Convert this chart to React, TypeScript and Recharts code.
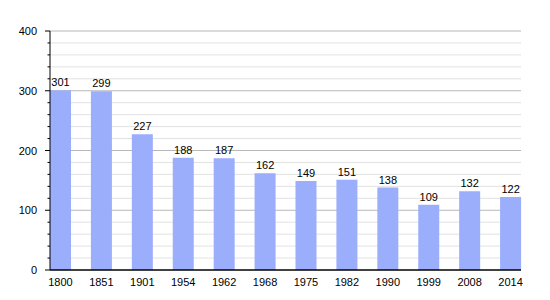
import { BarChart, Bar, XAxis, YAxis, CartesianGrid, LabelList } from "recharts";

// années et population
const years = ["1800", "1851", "1901", "1954", "1962", "1968", "1975", "1982", "1990", "1999", "2008", "2014"];
const population = [301, 299, 227, 188, 187, 162, 149, 151, 138, 109, 132, 122];
const yTicks = [0, 20, 40, 60, 80, 100, 120, 140, 160, 180, 200, 220, 240, 260, 280, 300, 320, 340, 360, 380, 400];
const majorTicks = [100, 200, 300, 400];

const data = years.map((year, i) => ({ year, value: population[i] }));
const minorTicks = yTicks.filter((v) => v % 100 !== 0);

const font = "'Liberation Sans', Arial, sans-serif";

function YTick(props: any) {
  const { y, payload } = props;
  const major = payload.value % 100 === 0;
  return (
    <g>
      <line x1={major ? 45 : 47.5} x2={50} y1={y} y2={y} stroke="#000" strokeWidth={1} />
      {major && (
        <text x={37} y={y} dy={4} textAnchor="end" fontSize={11} fill="#000" fontFamily={font}>
          {payload.value}
        </text>
      )}
    </g>
  );
}

export default function App() {
  return (
    <div style={{ position: "absolute", left: 0, top: 0, background: "#fff" }}>
      <BarChart
        width={550}
        height={300}
        data={data}
        margin={{ top: 31, right: 29, left: 0, bottom: 0 }}
        barSize={21}
      >
        <CartesianGrid vertical={false} horizontalValues={minorTicks} stroke="#e2e2e2" />
        <CartesianGrid vertical={false} horizontalValues={majorTicks} stroke="#b8b8b8" />
        <XAxis
          dataKey="year"
          height={30}
          padding={{ left: -10, right: -10 }}
          tickLine={false}
          axisLine={{ stroke: "#000", strokeWidth: 1.5 }}
          tick={{ fontSize: 11, fill: "#000", fontFamily: font }}
          tickMargin={2}
          interval={0}
        />
        <YAxis
          width={50}
          domain={[0, 400]}
          ticks={yTicks}
          interval={0}
          tickLine={false}
          axisLine={{ stroke: "#000", strokeWidth: 1 }}
          tick={<YTick />}
        />
        <Bar dataKey="value" fill="#9aaefc" isAnimationActive={false}>
          <LabelList dataKey="value" position="top" offset={4} fontSize={11} fill="#000" fontFamily={font} />
        </Bar>
      </BarChart>
    </div>
  );
}
